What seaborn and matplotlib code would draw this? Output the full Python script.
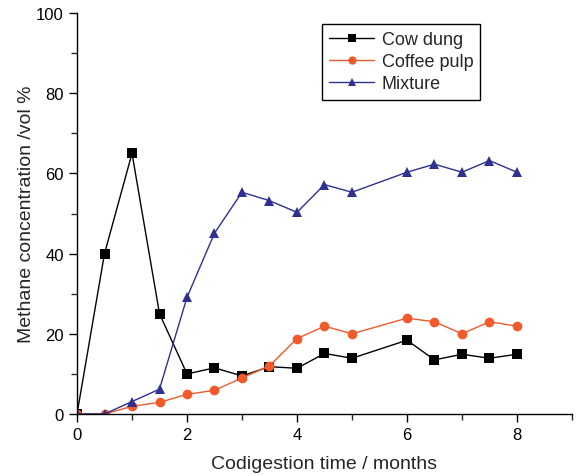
import matplotlib
matplotlib.use("Agg")
import matplotlib.pyplot as plt
import seaborn as sns
import pandas as pd
from matplotlib.ticker import MultipleLocator

months = [0, 0.5, 1, 1.5, 2, 2.5, 3, 3.5, 4, 4.5, 5, 6, 6.5, 7, 7.5, 8]
cow_dung = [0, 40, 65, 25, 10, 11.5, 9.5, 11.8, 11.4, 15.1, 13.9, 18.4, 13.5, 14.9, 13.9, 14.9]
coffee_pulp = [0, 0, 1.9, 2.9, 4.9, 5.9, 9, 12, 18.8, 21.9, 20, 23.9, 23, 20, 23, 21.9]
mixture = [0, 0, 3.1, 6.2, 29.1, 45.1, 55.3, 53.2, 50.3, 57.2, 55.3, 60.3, 62.3, 60.3, 63.2, 60.3]
series_names = ["Cow dung", "Coffee pulp", "Mixture"]

rows = []
for name, vals in zip(series_names, [cow_dung, coffee_pulp, mixture]):
    for x, y in zip(months, vals):
        rows.append({"time": x, "conc": y, "series": name})
df = pd.DataFrame(rows)

sns.set_style("ticks")
plt.rcParams["font.family"] = ["Liberation Sans", "DejaVu Sans"]

fig = plt.figure(figsize=(5.76, 4.77), dpi=100)
ax = fig.add_axes([0.1337, 0.13, 0.8593, 0.8406])

palette = {"Cow dung": "#000000", "Coffee pulp": "#F15A2B", "Mixture": "#2E3192"}
markers = {"Cow dung": "s", "Coffee pulp": "o", "Mixture": "^"}
sns.lineplot(data=df, x="time", y="conc", hue="series", style="series",
             palette=palette, markers=markers, dashes=False, ax=ax,
             linewidth=1.0, markersize=7, markeredgewidth=0,
             hue_order=series_names, style_order=series_names)

ax.set_xlim(0, 9)
ax.set_ylim(0, 100)
ax.xaxis.set_major_locator(MultipleLocator(2))
ax.xaxis.set_minor_locator(MultipleLocator(1))
ax.yaxis.set_major_locator(MultipleLocator(20))
ax.yaxis.set_minor_locator(MultipleLocator(10))
ax.tick_params(axis="both", which="major", direction="out", length=6, width=1, labelsize=12, colors="black")
ax.tick_params(axis="both", which="minor", direction="out", length=4, width=1)
for s in ["top", "right"]:
    ax.spines[s].set_visible(False)
for s in ["left", "bottom"]:
    ax.spines[s].set_color("black")
    ax.spines[s].set_linewidth(1)

ax.set_xlabel("Codigestion time / months", fontsize=14, labelpad=9)
ax.set_ylabel("Methane concentration /vol %", fontsize=14, labelpad=1)

leg = ax.legend(loc="upper left", bbox_to_anchor=(0.495, 0.9726), fontsize=13,
                frameon=True, fancybox=False, edgecolor="black", framealpha=1,
                handlelength=2.5, borderpad=0.4, labelspacing=0.28, handletextpad=0.4,
                borderaxespad=0, markerscale=0.85)
leg.get_frame().set_linewidth(1)

fig.savefig("out.png", dpi=100)
